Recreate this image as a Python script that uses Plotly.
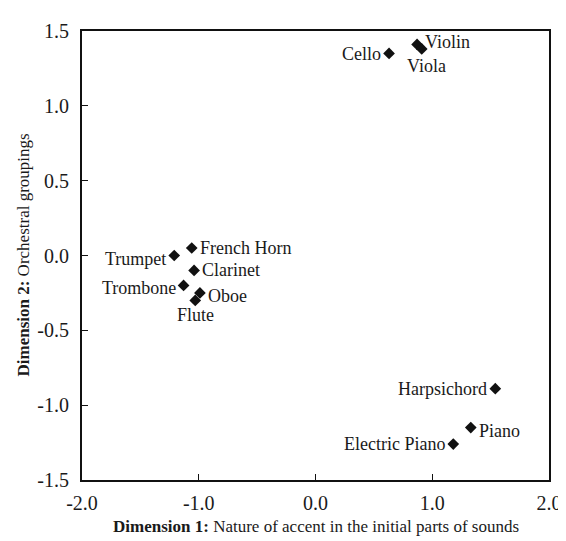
import plotly.graph_objects as go

instruments = ["Violin", "Viola", "Cello", "French Horn", "Trumpet", "Clarinet",
               "Trombone", "Oboe", "Flute", "Harpsichord", "Piano", "Electric Piano"]
dim1 = [0.87, 0.91, 0.63, -1.06, -1.21, -1.04, -1.13, -0.99, -1.03, 1.54, 1.33, 1.18]
dim2 = [1.41, 1.38, 1.35, 0.05, 0.00, -0.10, -0.20, -0.25, -0.30, -0.89, -1.15, -1.26]

x_ticks = [-2, -1, 0, 1, 2]
x_tick_text = ["-2.0", "-1.0", "0.0", "1.0", "2.0"]
y_ticks = [-1.5, -1.0, -0.5, 0.0, 0.5, 1.0, 1.5]
y_tick_text = ["-1.5", "-1.0", "-0.5", "0.0", "0.5", "1.0", "1.5"]

# label placement (style): anchor, x shift, y shift in px
label_style = {
    "Violin": ("left", 6, 2),
    "Viola": ("center", 5, -17),
    "Cello": ("right", -6, -1),
    "French Horn": ("left", 6, 0),
    "Trumpet": ("right", -6, -3),
    "Clarinet": ("left", 6, 0),
    "Trombone": ("right", -6, -3),
    "Oboe": ("left", 6, -3),
    "Flute": ("center", 0, -15),
    "Harpsichord": ("right", -6, 0),
    "Piano": ("left", 6, -3),
    "Electric Piano": ("right", -6, 0),
}

FONT = "Liberation Serif, Times New Roman, serif"
TXT = "#1a1a1a"

fig = go.Figure()
fig.add_trace(go.Scatter(
    x=dim1, y=dim2, mode="markers",
    marker=dict(symbol="diamond", size=9, color="#111"),
    cliponaxis=False, showlegend=False, hoverinfo="text", text=instruments,
))

for name, xv, yv in zip(instruments, dim1, dim2):
    anchor, dx, dy = label_style[name]
    fig.add_annotation(x=xv, y=yv, text=name, showarrow=False,
                       xanchor=anchor, yanchor="middle", xshift=dx, yshift=dy,
                       font=dict(family=FONT, size=18, color=TXT))

axis_common = dict(
    showline=True, linecolor="#111", linewidth=2, mirror=True,
    ticks="inside", ticklen=6, tickwidth=1, tickcolor="#111",
    showgrid=False, zeroline=False,
    tickfont=dict(family=FONT, size=20, color=TXT),
)

fig.update_layout(
    width=566, height=541,
    margin=dict(l=74, r=13, t=13, b=69),
    paper_bgcolor="white", plot_bgcolor="white",
    xaxis=dict(range=[-2, 2], tickvals=x_ticks, ticktext=x_tick_text,
               ticklabelstandoff=4, **axis_common),
    yaxis=dict(range=[-1.5, 1.5], tickvals=y_ticks, ticktext=y_tick_text,
               ticklabelstandoff=7, **axis_common),
)

fig.add_annotation(xref="paper", yref="paper", x=0.5, y=0, yshift=-46,
                   xanchor="center", yanchor="middle", showarrow=False,
                   text="<b>Dimension 1:</b> Nature of accent in the initial parts of sounds",
                   font=dict(family=FONT, size=17, color=TXT))
fig.add_annotation(xref="paper", yref="paper", x=0, y=0.5, xshift=-59,
                   xanchor="center", yanchor="middle", showarrow=False, textangle=-90,
                   text="<b>Dimension 2:</b> Orchestral groupings",
                   font=dict(family=FONT, size=17, color=TXT))

fig.write_html("out.html")
